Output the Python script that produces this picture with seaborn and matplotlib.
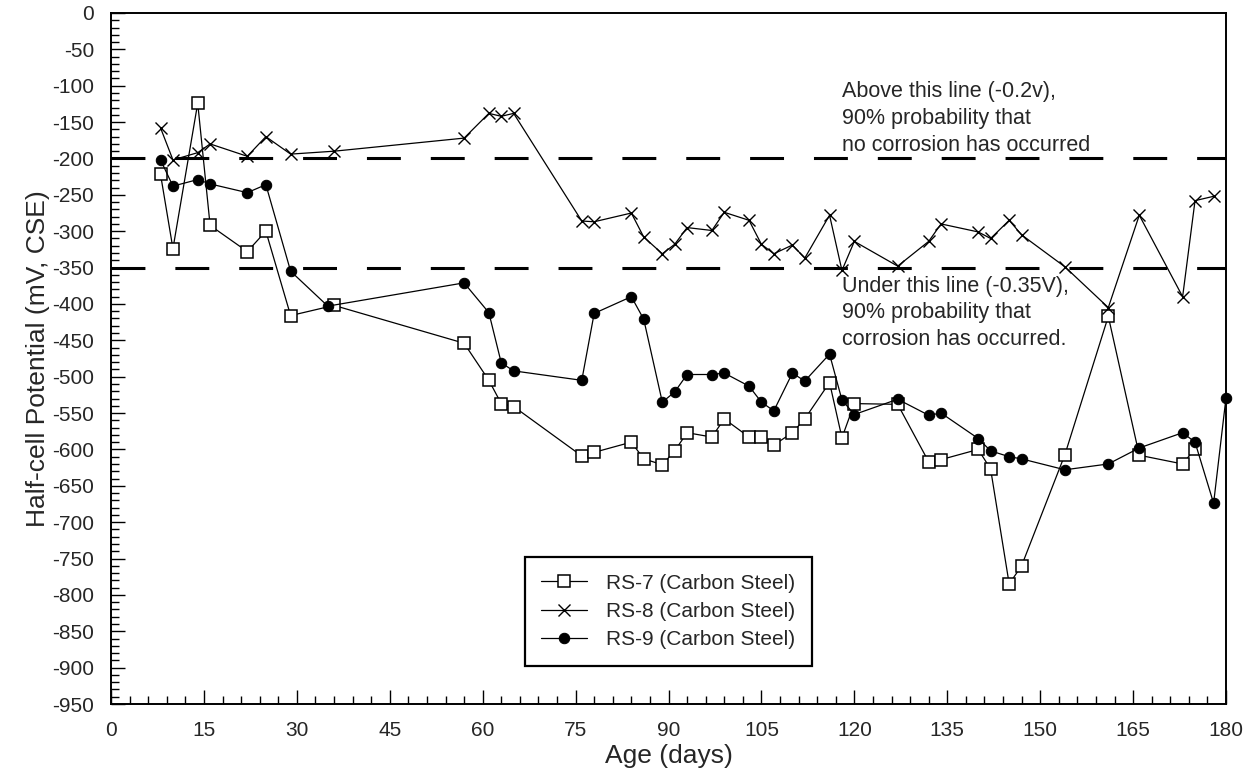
import matplotlib
matplotlib.use("Agg")
import matplotlib.pyplot as plt
import seaborn as sns
import pandas as pd
import numpy as np
from matplotlib.ticker import MultipleLocator

# half-cell readings (mV, CSE) by age in days
days_rs7 = [8, 10, 14, 16, 22, 25, 29, 36, 57, 61, 63, 65, 76, 78, 84, 86, 89, 91, 93, 97, 99,
            103, 105, 107, 110, 112, 116, 118, 120, 127, 132, 134, 140, 142, 145, 147,
            154, 161, 166, 173, 175]
rs7 = [-222, -324, -124, -292, -328, -300, -416, -402, -454, -505, -537, -541,
       -609, -604, -590, -613, -621, -602, -577, -583, -558,
       -583, -583, -594, -577, -558, -508, -584, -537,
       -538, -617, -614, -600, -627, -785, -760,
       -607, -417, -608, -620, -599]

days_rs8 = [8, 10, 14, 16, 22, 25, 29, 36, 57, 61, 63, 65, 76, 78, 84, 86, 89, 91, 93, 97, 99,
            103, 105, 107, 110, 112, 116, 118, 120, 127, 132, 134, 140, 142, 145, 147,
            154, 161, 166, 173, 175, 178]
rs8 = [-158, -202, -192, -180, -197, -170, -194, -190, -172, -138, -142, -138,
       -286, -287, -275, -308, -331, -318, -295, -299, -274,
       -285, -318, -331, -319, -337, -278, -354, -314,
       -348, -314, -290, -301, -310, -285, -305,
       -349, -405, -278, -390, -258, -252]

days_rs9 = [8, 10, 14, 16, 22, 25, 29, 35, 57, 61, 63, 65, 76, 78, 84, 86, 89, 91, 93, 97, 99,
            103, 105, 107, 110, 112, 116, 118, 120, 127, 132, 134, 140, 142, 145, 147,
            154, 161, 166, 173, 175, 178, 180]
rs9 = [-202, -238, -229, -235, -247, -236, -355, -403, -371, -412, -481, -492,
       -505, -413, -390, -421, -535, -521, -497, -497, -495,
       -513, -535, -547, -495, -506, -469, -532, -552,
       -531, -553, -550, -585, -602, -610, -613,
       -628, -620, -598, -577, -590, -674, -529]

labels = ["RS-7 (Carbon Steel)", "RS-8 (Carbon Steel)", "RS-9 (Carbon Steel)"]
thresholds = [-200, -350]
note_above = "Above this line (-0.2v),\n90% probability that\nno corrosion has occurred"
note_under = "Under this line (-0.35V),\n90% probability that\ncorrosion has occurred."

sns.set_theme(style="ticks")
plt.rcParams['font.family'] = ['Liberation Sans', 'DejaVu Sans']
plt.rcParams['axes.unicode_minus'] = False

fig = plt.figure(figsize=(12.49, 7.80), dpi=100)
ax = fig.add_axes([111 / 1249, 1 - 704 / 780, 1115 / 1249, 691 / 780])

# probability threshold lines
for t in thresholds:
    ax.axhline(t, color='black', lw=2.2, dashes=(11.1, 9.8), zorder=1)

sns.lineplot(x=days_rs7, y=rs7, ax=ax, color='black', lw=0.9, marker='s', markersize=8,
             markerfacecolor='white', markeredgecolor='black', markeredgewidth=1.1,
             label=labels[0], zorder=3, clip_on=False)
sns.lineplot(x=days_rs8, y=rs8, ax=ax, color='black', lw=0.9, marker='x', markersize=8.5,
             markeredgecolor='black', markeredgewidth=1.0, label=labels[1], zorder=3,
             clip_on=False)
sns.lineplot(x=days_rs9, y=rs9, ax=ax, color='black', lw=0.9, marker='o', markersize=7.5,
             markerfacecolor='black', markeredgecolor='black', label=labels[2], zorder=3,
             clip_on=False)

ax.text(118, -145, note_above, fontsize=15.5, va='center', ha='left', linespacing=1.35)
ax.text(118, -412, note_under, fontsize=15.5, va='center', ha='left', linespacing=1.35)

ax.set_xlim(0, 180)
ax.set_ylim(-950, 0)
ax.xaxis.set_major_locator(MultipleLocator(15))
ax.xaxis.set_minor_locator(MultipleLocator(3))
ax.yaxis.set_major_locator(MultipleLocator(50))
ax.yaxis.set_minor_locator(MultipleLocator(10))
ax.tick_params(which='major', direction='in', length=10, width=1, labelsize=15,
               color='black', top=False, right=False)
ax.tick_params(which='minor', direction='in', length=5.5, width=1, color='black',
               top=False, right=False)
ax.tick_params(axis='x', which='major', pad=12)
ax.tick_params(axis='y', which='major', pad=12)
for sp in ax.spines.values():
    sp.set_color('black')
    sp.set_linewidth(1.4)
    sp.set_visible(True)

ax.set_xlabel("Age (days)", fontsize=19, labelpad=3)
ax.set_ylabel("Half-cell Potential (mV, CSE)", fontsize=19, labelpad=2)

leg = ax.legend(loc='upper left', bbox_to_anchor=(0.371, 0.2127), borderaxespad=0,
                fontsize=15, frameon=True, fancybox=False, edgecolor='black', framealpha=1,
                handlelength=2.2, handletextpad=0.9, borderpad=0.8, labelspacing=0.45)
leg.get_frame().set_linewidth(1.6)

fig.savefig("out.png", dpi=100, facecolor='white')
